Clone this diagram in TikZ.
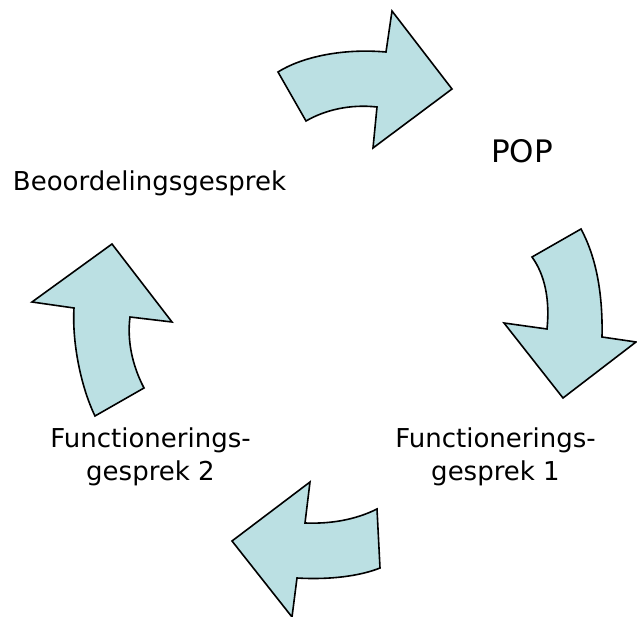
\documentclass[tikz,border=0pt]{standalone}
\usepackage{fontspec}
\setmainfont{DejaVu Sans}
\definecolor{arrowfill}{RGB}{187,224,227}
\begin{document}
\begin{tikzpicture}[x=1pt,y=-1pt,
  bigarrow/.style={draw=black,line width=1.6pt,fill=arrowfill,line join=miter},
  lbl/.style={font=\fontsize{26}{33}\selectfont,align=center,inner sep=0pt,anchor=base},
  poplbl/.style={font=\fontsize{31}{37}\selectfont,inner sep=0pt,anchor=base}]
\useasboundingbox (0,0) rectangle (637,617);
% top arrow (to the right)
\path[bigarrow] (278,72) -- (306,121)
  .. controls (325,110) and (350,104) .. (377,107)
  -- (373,148) -- (452,89) -- (392,11) -- (386,52)
  .. controls (340,48) and (300,58) .. (278,72) -- cycle;
% right arrow (downwards)
\path[bigarrow] (532,257) -- (581,229)
  .. controls (595,255) and (603,290) .. (602,337)
  -- (636,342) -- (563,398) -- (504,323) -- (547,329)
  .. controls (550,300) and (545,275) .. (532,257) -- cycle;
% bottom arrow (to the left)
\path[bigarrow] (377,509) -- (380,568)
  .. controls (360,576) and (330,580) .. (297,578)
  -- (292,617) -- (232,541) -- (310,482) -- (305,523)
  .. controls (330,524) and (355,520) .. (377,509) -- cycle;
% left arrow (upwards)
\path[bigarrow] (95,416) -- (144,388)
  .. controls (132,365) and (127,340) .. (130,317)
  -- (172,322) -- (112,244) -- (32,302) -- (74,308)
  .. controls (72,340) and (80,385) .. (95,416) -- cycle;
% labels
\node[poplbl] (pop) at (522,163) {POP};
\node[lbl] (beo) at (149.5,191) {Beoordelingsgesprek};
\node[lbl] (f1) at (495.5,480) {Functionerings-\\gesprek 1};
\node[lbl] (f2) at (150.5,480) {Functionerings-\\gesprek 2};
\end{tikzpicture}
\end{document}
